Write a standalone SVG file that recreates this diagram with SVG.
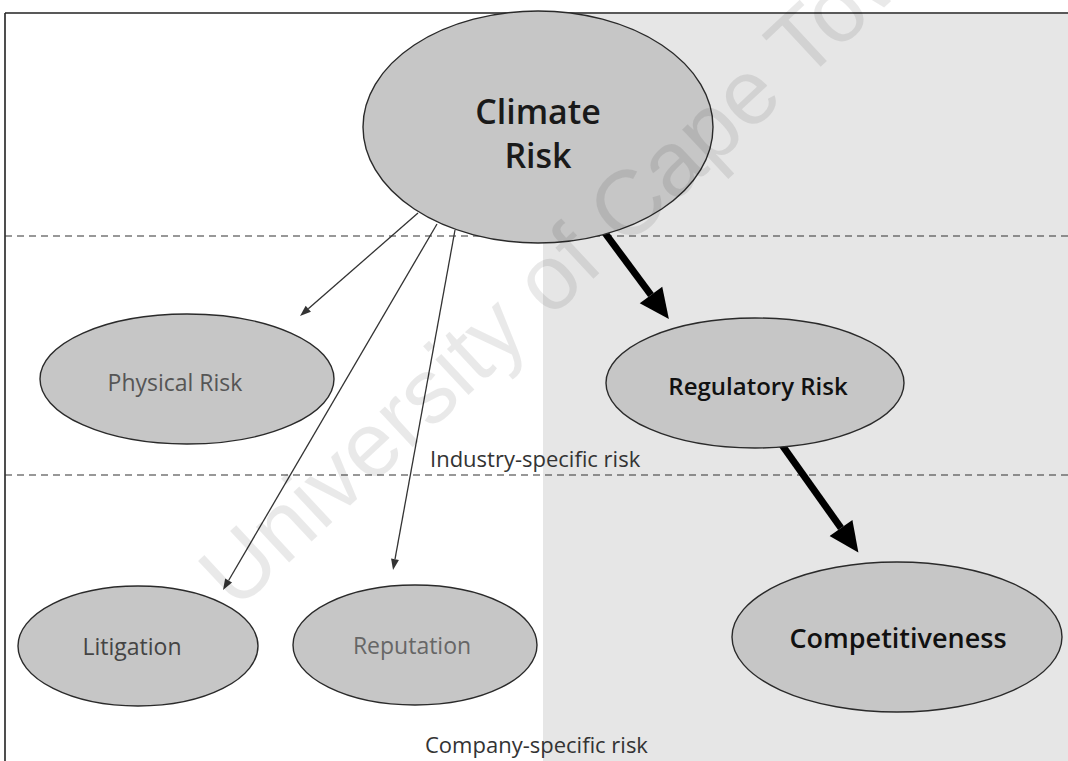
<svg xmlns="http://www.w3.org/2000/svg" width="1068" height="761" viewBox="0 0 1068 761">
<defs>
<style>
.node ellipse{fill:#c6c6c6;stroke:#2a2a2a;stroke-width:1.4}
.t{font-family:"Open Sans","Liberation Sans",sans-serif;text-anchor:middle}
.lbl{font-family:"Open Sans","Liberation Sans",sans-serif;font-size:22px;fill:#333}
.dash{stroke:#333;stroke-width:1.2;stroke-dasharray:7 5;fill:none}
.thin{stroke:#333;stroke-width:1.3;fill:none}
.thick{stroke:#000;stroke-width:7;fill:none}
</style>
<marker id="hThin" markerUnits="userSpaceOnUse" markerWidth="14" markerHeight="10" viewBox="0 -5 12 10" refX="0" refY="0" orient="auto">
<path d="M0,-4 L11,0 L0,4 z" fill="#333"/>
</marker>
<marker id="hThick" markerUnits="userSpaceOnUse" markerWidth="32" markerHeight="30" viewBox="0 -15 31 30" refX="0" refY="0" orient="auto">
<path d="M0,-14 L30,0 L0,14 z" fill="#000"/>
</marker>
</defs>
<rect x="0" y="0" width="1068" height="761" fill="#ffffff"/>
<rect x="543" y="14" width="525" height="747" fill="#e6e6e6"/>
<g id="frame">
<line x1="5" y1="13" x2="1068" y2="13" stroke="#222" stroke-width="1.6"/>
<line x1="5" y1="13" x2="5" y2="761" stroke="#222" stroke-width="1.6"/>
<line class="dash" x1="5" y1="236" x2="1068" y2="236"/>
<line class="dash" x1="5" y1="475" x2="1068" y2="475"/>
</g>
<g id="zone-labels">
<text class="lbl" x="430" y="467">Industry-specific risk</text>
<text class="lbl" x="425" y="753">Company-specific risk</text>
</g>
<g id="connectors">
<line class="thin" x1="418" y1="213" x2="308.3" y2="308.8" marker-end="url(#hThin)"/>
<line class="thin" x1="437" y1="224" x2="228.6" y2="580.5" marker-end="url(#hThin)"/>
<line class="thin" x1="455" y1="230" x2="395" y2="559.2" marker-end="url(#hThin)"/>
<line class="thick" x1="605" y1="233" x2="651" y2="295" marker-end="url(#hThick)"/>
<line class="thick" x1="782" y1="445" x2="841" y2="528" marker-end="url(#hThick)"/>
</g>
<g id="node-climate" class="node">
<ellipse cx="538" cy="127" rx="175" ry="116"/>
<text class="t" font-size="34" font-weight="600" fill="#1a1a1a"><tspan x="538" y="124">Climate</tspan><tspan x="538" y="168">Risk</tspan></text>
</g>
<g id="node-physical" class="node">
<ellipse cx="187" cy="379" rx="147" ry="65"/>
<text class="t" x="175" y="391" font-size="23" fill="#555">Physical Risk</text>
</g>
<g id="node-regulatory" class="node">
<ellipse cx="755" cy="383" rx="149" ry="65"/>
<text class="t" x="758" y="395" font-size="24" font-weight="600" fill="#111">Regulatory Risk</text>
</g>
<g id="node-litigation" class="node">
<ellipse cx="138" cy="646" rx="120" ry="60"/>
<text class="t" x="132" y="655" font-size="23" fill="#444">Litigation</text>
</g>
<g id="node-reputation" class="node">
<ellipse cx="415" cy="645" rx="122" ry="60"/>
<text class="t" x="412" y="654" font-size="23" fill="#666">Reputation</text>
</g>
<g id="node-competitiveness" class="node">
<ellipse cx="897" cy="637" rx="165" ry="75"/>
<text class="t" x="898" y="648" font-size="27" font-weight="600" fill="#111">Competitiveness</text>
</g>
<g id="watermark">
<text transform="translate(236,612) rotate(-43)" font-family="Liberation Sans, sans-serif" font-size="92" fill="#000" fill-opacity="0.085">University of Cape Town</text>
</g>
</svg>
